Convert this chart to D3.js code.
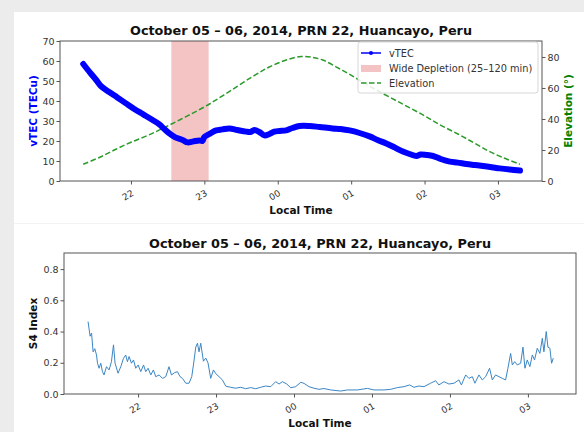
<!DOCTYPE html>
<html><head><meta charset="utf-8">
<script src="https://cdn.jsdelivr.net/npm/d3@7"></script>
<style>
body{margin:0;background:#fff}
svg{display:block}
text{font-family:"DejaVu Sans",sans-serif}
</style>
</head><body><svg id="c" width="584" height="432"></svg>
<script>
// ---- data (times in minutes after 22:00 local time) ----
const titleText = "October 05 \u2013 06, 2014, PRN 22, Huancayo, Peru";
const tickMinutes = [0, 60, 120, 180, 240, 300];
const tickLabels = ["22", "23", "00", "01", "02", "03"];
const depletion = [33, 63.5];
const tecTicks = [0, 10, 20, 30, 40, 50, 60, 70];
const elevTicks = [0, 20, 40, 60, 80];
const s4Ticks = [0, 0.2, 0.4, 0.6, 0.8];

const vtecTime = [-39,-35.8,-32.5,-28.4,-24.6,-17.8,-11.2,-4.1,2.7,10.1,17.7,23.2,27.3,31.4,36.3,42.2,46.3,51,55.9,58.4,60,64.1,69.6,74.7,80.4,87,94.1,97.7,100.9,105,109.1,113.2,117.3,121.4,126.9,132,137.8,146,154.2,164.8,171.3,178.7,186.9,195.1,201.6,208.7,215.5,222.3,227.8,233.3,236.8,241.5,246.9,253.2,260.6,267.1,274.2,281,287.8,294.9,301.5,309.7,318];
const vtecValue = [58.5,56,53.5,50.5,47.5,44.5,41.8,38.8,36,33.3,30.5,28.3,26,23.8,21.8,20.5,19.3,19.8,20.3,20,22,23.5,25.3,25.8,26.3,25.5,24.7,24.5,25.5,24.5,22.8,23.5,24.7,25,25.3,26.5,27.5,27.5,27,26.3,26,25.3,24,22.3,20.5,18.8,16.8,14.7,13.5,12.5,13.2,13,12.5,11,9.7,9.2,8.5,8,7.5,6.9,6.3,5.7,5.2];

const elevTime = [-39,-25,-12.3,0,14,28.7,45,61.4,80,99.3,113,126.9,139.2,148,156.8,168,179.5,190,200.6,220,238.7,252,266,280,293.3,306,318];
const elevValue = [10.8,15.5,20.5,25,29.5,35,41.5,48.4,57.5,67.3,73.5,78,80.3,79.8,78,73.5,68.4,63.5,58.7,50.5,42.6,36.5,30.8,24.8,18.9,14.5,10.8];

const s4Time = [-38.5,-36.9,-35.8,-34.6,-33.3,-32,-31.2,-30,-28.7,-27.4,-26.2,-24.3,-22.3,-20.5,-18.9,-17.7,-15.4,-13.3,-11.2,-9.5,-8.2,-6.9,-5.1,-3.5,-1.8,0,2.1,4.2,5.9,7.7,9.8,11.8,13.6,16.2,18.8,21.3,23.8,25.7,28.2,30.3,32.3,34.2,36.7,39.2,41.3,42.6,44.4,45.7,46.9,48.2,50.3,52.1,53.8,55.9,58,59.8,62.3,64.9,67.5,71.3,75.1,79,82.8,86.7,90.5,94.4,98.2,102.1,105.9,108.5,111.1,114.4,117.5,121.3,125.2,127.7,131.5,135.4,139.2,143.1,148.2,155.9,161.1,168.8,176.5,181.5,189.2,194.4,199.5,204.6,209,212.3,216.1,220,225.1,229,231.5,235.4,239.2,243.1,246.9,248.8,252.1,254.6,257.2,259.2,262.3,264.9,267.5,270.5,272.6,275.1,277.7,280.3,282.8,284.6,286.7,288,289.8,291.8,294.4,296.2,297.7,299.5,301.5,303.4,305.1,307.2,309.2,311.1,312.3,314.1,315.4,316.9,318.2,319.5];
const s4Value = [0.464,0.37,0.39,0.27,0.29,0.25,0.197,0.165,0.197,0.143,0.122,0.175,0.154,0.207,0.315,0.197,0.133,0.175,0.229,0.25,0.207,0.24,0.197,0.218,0.165,0.186,0.143,0.186,0.143,0.165,0.122,0.154,0.111,0.122,0.1,0.111,0.175,0.122,0.137,0.143,0.111,0.1,0.069,0.069,0.111,0.186,0.3,0.325,0.27,0.325,0.21,0.23,0.2,0.1,0.154,0.13,0.111,0.09,0.05,0.043,0.037,0.043,0.034,0.041,0.034,0.043,0.051,0.047,0.079,0.064,0.079,0.064,0.04,0.047,0.075,0.068,0.047,0.037,0.03,0.035,0.026,0.019,0.026,0.026,0.036,0.026,0.026,0.03,0.041,0.047,0.058,0.043,0.051,0.047,0.069,0.085,0.058,0.079,0.064,0.069,0.09,0.058,0.122,0.1,0.111,0.069,0.122,0.09,0.111,0.165,0.09,0.122,0.111,0.1,0.09,0.165,0.26,0.186,0.207,0.186,0.197,0.3,0.165,0.218,0.175,0.25,0.218,0.293,0.26,0.357,0.27,0.4,0.3,0.293,0.197,0.229];

// ---- drawing ----
const svg = d3.select("#c");
const AX = "#555", TXT = "#333";

// page frame
svg.append("rect").attr("width", 584).attr("height", 432).attr("fill", "#ececec");
svg.append("rect").attr("x", 14).attr("y", 12).attr("width", 570).attr("height", 420).attr("fill", "#fff");
svg.append("line").attr("x1", 14).attr("x2", 584).attr("y1", 223.5).attr("y2", 223.5).attr("stroke", "#f3f3f3");

function xAxis(g, x, y0, fs) {
  const ax = d3.axisBottom(x).tickValues(tickMinutes).tickFormat((d, i) => tickLabels[i])
    .tickSize(3.5).tickPadding(2);
  const a = g.append("g").attr("transform", `translate(0,${y0})`).call(ax);
  a.select(".domain").remove();
  a.selectAll("line").attr("stroke", AX);
  a.selectAll("text").attr("fill", TXT).attr("font-size", fs)
    .attr("text-anchor", "end").attr("y", 0).attr("dy", 0)
    .attr("transform", "translate(3,14) rotate(-30)");
}

function yAxis(g, y, x0, ticks, fmt, left) {
  const ax = (left ? d3.axisLeft(y) : d3.axisRight(y)).tickValues(ticks).tickFormat(fmt)
    .tickSize(3.5).tickPadding(2);
  const a = g.append("g").attr("transform", `translate(${x0},0)`).call(ax);
  a.select(".domain").remove();
  a.selectAll("line").attr("stroke", AX);
  a.selectAll("text").attr("fill", TXT).attr("font-size", 9.5);
}

// ===== top panel =====
const T = {l: 60, r: 542, t: 41, b: 181};
const xTop = d3.scaleLinear().domain([-58, 336]).range([T.l, T.r]);
const yTec = d3.scaleLinear().domain([0, 70]).range([T.b, T.t]);
const yEl = d3.scaleLinear().domain([0, 90.3]).range([T.b, T.t]);
const gTop = svg.append("g");

gTop.append("rect").attr("x", xTop(depletion[0])).attr("y", T.t)
  .attr("width", xTop(depletion[1]) - xTop(depletion[0])).attr("height", T.b - T.t)
  .attr("fill", "#f4c4c4");

const elevData = d3.zip(elevTime, elevValue);
gTop.append("path").datum(elevData)
  .attr("d", d3.line().x(d => xTop(d[0])).y(d => yEl(d[1])).curve(d3.curveCatmullRom))
  .attr("fill", "none").attr("stroke", "#2a9a2a").attr("stroke-width", 1.5)
  .attr("stroke-dasharray", "5.5,2.5");

const tecData = d3.zip(vtecTime, vtecValue);
gTop.append("path").datum(tecData)
  .attr("d", d3.line().x(d => xTop(d[0])).y(d => yTec(d[1])).curve(d3.curveCatmullRom))
  .attr("fill", "none").attr("stroke", "#0000ff").attr("stroke-width", 6)
  .attr("stroke-linejoin", "round").attr("stroke-linecap", "round");

gTop.append("rect").attr("x", T.l).attr("y", T.t).attr("width", T.r - T.l).attr("height", T.b - T.t)
  .attr("fill", "none").attr("stroke", AX).attr("stroke-width", 1);

xAxis(gTop, xTop, T.b, 9);
yAxis(gTop, yTec, T.l, tecTicks, d3.format("d"), true);
yAxis(gTop, yEl, T.r, elevTicks, d3.format("d"), false);

gTop.append("text").attr("x", (T.l + T.r) / 2).attr("y", 34.5).attr("text-anchor", "middle")
  .attr("font-size", 12.8).attr("font-weight", "bold").attr("fill", "#111").text(titleText);
gTop.append("text").attr("x", (T.l + T.r) / 2).attr("y", 214).attr("text-anchor", "middle")
  .attr("font-size", 10.5).attr("font-weight", "bold").attr("fill", "#111").text("Local Time");
gTop.append("text").attr("transform", `translate(37,${(T.t + T.b) / 2}) rotate(-90)`)
  .attr("text-anchor", "middle").attr("font-size", 10.5).attr("font-weight", "bold")
  .attr("fill", "#0000ff").text("vTEC (TECu)");
gTop.append("text").attr("transform", `translate(572,${(T.t + T.b) / 2}) rotate(-90)`)
  .attr("text-anchor", "middle").attr("font-size", 10.5).attr("font-weight", "bold")
  .attr("fill", "#008000").text("Elevation (\u00b0)");

// legend
const lg = gTop.append("g").attr("transform", "translate(358,42)");
lg.append("rect").attr("width", 180).attr("height", 51).attr("rx", 2.5)
  .attr("fill", "#fff").attr("fill-opacity", 0.85).attr("stroke", "#d6d6d6");
lg.append("line").attr("x1", 3).attr("x2", 23).attr("y1", 11).attr("y2", 11)
  .attr("stroke", "#0000ff").attr("stroke-width", 1.5);
lg.append("circle").attr("cx", 13).attr("cy", 11).attr("r", 2).attr("fill", "#0000ff");
lg.append("rect").attr("x", 3).attr("y", 23).attr("width", 20).attr("height", 7).attr("fill", "#f4c4c4");
lg.append("line").attr("x1", 3).attr("x2", 23).attr("y1", 41).attr("y2", 41)
  .attr("stroke", "#2a9a2a").attr("stroke-width", 1.5).attr("stroke-dasharray", "5.5,2.5");
const lgLabels = ["vTEC", "Wide Depletion (25\u2013120 min)", "Elevation"];
lg.selectAll("text.l").data(lgLabels).join("text").attr("class", "l")
  .attr("x", 31).attr("y", (d, i) => 14.5 + i * 15).attr("font-size", 9.8).attr("fill", TXT).text(d => d);

// ===== bottom panel =====
const B = {l: 64, r: 576, t: 253, b: 394};
const xBot = d3.scaleLinear().domain([-57, 337]).range([B.l, B.r]);
const yS4 = d3.scaleLinear().domain([0, 0.903]).range([B.b, B.t]);
const gBot = svg.append("g");

const s4Data = d3.zip(s4Time, s4Value);
gBot.append("path").datum(s4Data)
  .attr("d", d3.line().x(d => xBot(d[0])).y(d => yS4(d[1])))
  .attr("fill", "none").attr("stroke", "#3b86c4").attr("stroke-width", 1);

gBot.append("rect").attr("x", B.l).attr("y", B.t).attr("width", B.r - B.l).attr("height", B.b - B.t)
  .attr("fill", "none").attr("stroke", AX).attr("stroke-width", 1);

xAxis(gBot, xBot, B.b, 9);
yAxis(gBot, yS4, B.l, s4Ticks, d3.format(".1f"), true);

gBot.append("text").attr("x", (B.l + B.r) / 2).attr("y", 247.5).attr("text-anchor", "middle")
  .attr("font-size", 12.8).attr("font-weight", "bold").attr("fill", "#111").text(titleText);
gBot.append("text").attr("x", (B.l + B.r) / 2).attr("y", 427).attr("text-anchor", "middle")
  .attr("font-size", 10.5).attr("font-weight", "bold").attr("fill", "#111").text("Local Time");
gBot.append("text").attr("transform", `translate(37,${(B.t + B.b) / 2}) rotate(-90)`)
  .attr("text-anchor", "middle").attr("font-size", 10.5).attr("font-weight", "bold")
  .attr("fill", "#111").text("S4 Index");
</script>
</body></html>
